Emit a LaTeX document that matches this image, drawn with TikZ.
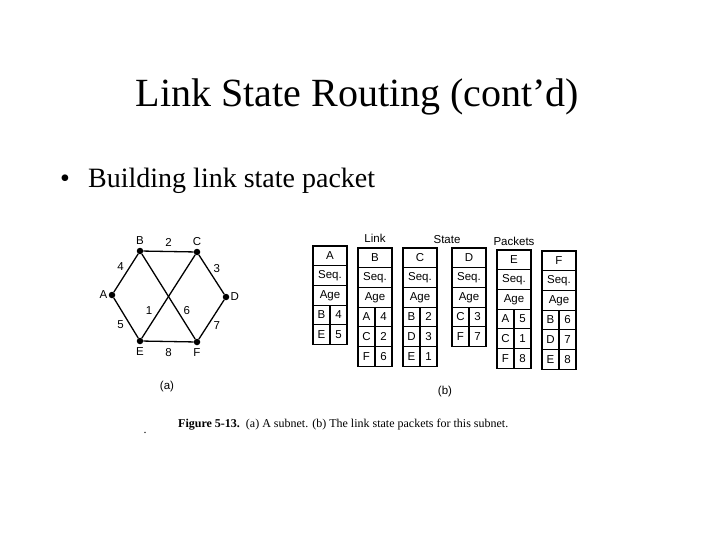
\documentclass[tikz,border=0pt]{standalone}
\usepackage{fontspec}
\setmainfont{Liberation Serif}
\setsansfont{Liberation Sans}
\usetikzlibrary{positioning}

\tikzset{
  router/.style={circle, fill=black, inner sep=0pt, minimum size=6.5pt},
  link/.style={line width=1.3pt},
  wt/.style={font=\sffamily\fontsize{11.5}{13}\selectfont, inner sep=1.5pt},
  cellwide/.style={draw, line width=1.2pt, minimum width=34pt, minimum height=19.7pt,
    inner sep=0pt, outer sep=0pt, anchor=north west, font=\sffamily\fontsize{11.5}{13}\selectfont},
  cellhalf/.style={cellwide, minimum width=17pt},
}

% one link state packet: name, left x, top y, neighbour/cost list
\newcommand{\lspacket}[4]{%
  \node[cellwide] (#1-id) at (#2,#3) {#1};
  \node[cellwide] (#1-seq) at (#1-id.south west) {Seq.};
  \node[cellwide] (#1-age) at (#1-seq.south west) {Age};
  \coordinate (#1-r1) at (#1-age.south west);
  \foreach \nbr/\cost [count=\i] in {#4}{
    \pgfmathtruncatemacro\k{\i+1}
    \node[cellhalf] (#1-n\i) at (#1-r\i) {\nbr};
    \node[cellhalf] (#1-c\i) at (#1-n\i.north east) {\cost};
    \coordinate (#1-r\k) at (#1-n\i.south west);
  }%
}

\begin{document}
\begin{tikzpicture}[x=1pt, y=-1pt]
  \useasboundingbox (0,0) rectangle (720,540);

  % slide text
  \node[anchor=base, font=\fontsize{40}{48}\selectfont] (title) at (357.5,107) {Link State Routing (cont’d)};
  \node[anchor=base, inner sep=0pt, font=\fontsize{28}{34}\selectfont] (bul) at (65,188) {•};
  \node[anchor=base west, inner sep=0pt, font=\fontsize{28}{34}\selectfont] (item) at (88,188) {Building link state packet};

  % (a) the subnet
  \node[router] (A) at (112,295) {};
  \node[router] (B) at (140,251) {};
  \node[router] (C) at (197,252) {};
  \node[router] (D) at (226,297) {};
  \node[router] (E) at (140,341) {};
  \node[router] (F) at (197,342) {};
  \node[wt, left=-0.5pt of A] (lA) {A};
  \node[wt, above=1pt of B] (lB) {B};
  \node[wt, above=1pt of C] (lC) {C};
  \node[wt, right=-0.5pt of D] (lD) {D};
  \node[wt, below=1.5pt of E] (lE) {E};
  \node[wt, below=1.5pt of F] (lF) {F};

  \draw[link] (B) -- (C) node[wt, midway, above=3pt] {2};
  \draw[link] (A) -- (B) node[wt, midway, above left] {4};
  \draw[link] (C) -- (D) node[wt, midway, above right] {3};
  \draw[link] (A) -- (E) node[wt, midway, below left] {5};
  \draw[link] (D) -- (F) node[wt, midway, below right] {7};
  \draw[link] (E) -- (F) node[wt, midway, below=5pt] {8};
  \draw[link] (C) -- (E) node[wt, pos=0.67, left=5pt] {1};
  \draw[link] (B) -- (F) node[wt, pos=0.67, right=4pt] {6};
  \node[wt] (capa) at (167,387) {(a)};

  % (b) the packets
  \lspacket{A}{313}{246}{B/4,E/5}
  \lspacket{B}{358}{248}{A/4,C/2,F/6}
  \lspacket{C}{403}{248}{B/2,D/3,E/1}
  \lspacket{D}{452}{248}{C/3,F/7}
  \lspacket{E}{497}{250}{A/5,C/1,F/8}
  \lspacket{F}{542}{251}{B/6,D/7,E/8}
  \node[wt] (hLink) at (375,238) {Link};
  \node[wt] (hState) at (447,240) {State};
  \node[wt] (hPackets) at (514,241) {Packets};
  \node[wt] (capb) at (445,392) {(b)};

  % caption
  \node[anchor=base, inner sep=0pt, font=\fontsize{12}{14}\selectfont] (speck) at (145,433) {.};
  \node[anchor=base west, inner sep=0pt, font=\fontsize{12}{14}\selectfont] (caption) at (178,427)
    {\textbf{Figure 5-13.}\ \ (a) A subnet. (b) The link state packets for this subnet.};
\end{tikzpicture}
\end{document}
